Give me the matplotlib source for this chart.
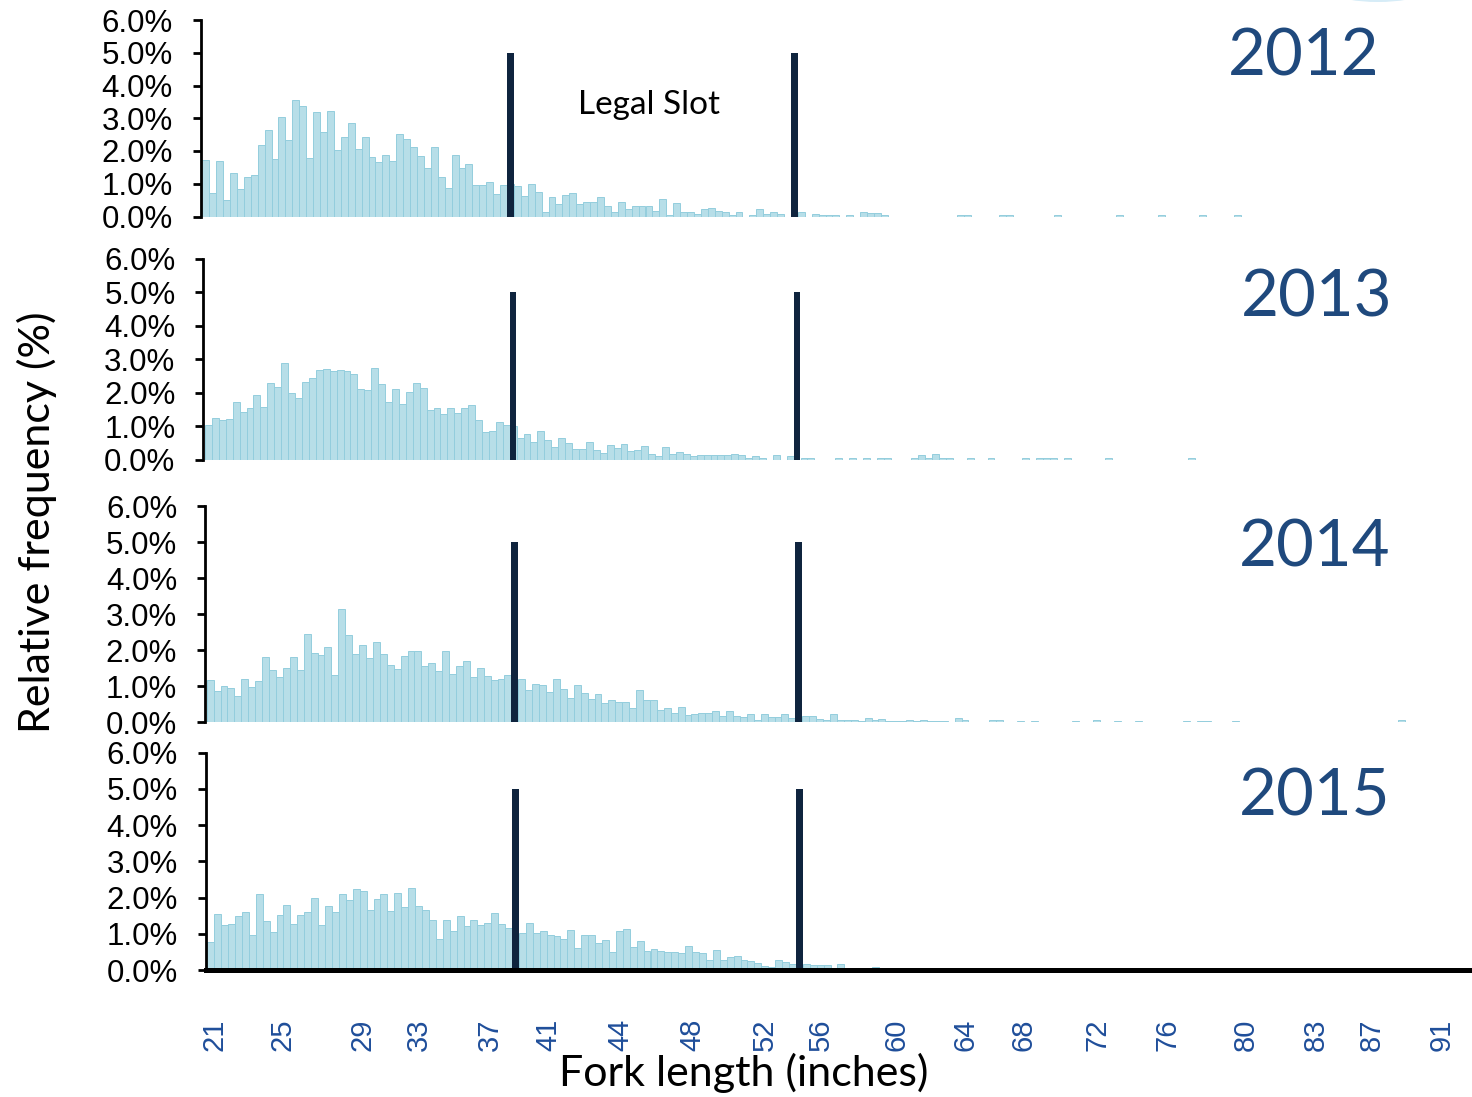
import matplotlib
matplotlib.use("Agg")
import matplotlib.pyplot as plt
from matplotlib.patches import Ellipse
import numpy as np

# ---------------- data (relative frequency in %, 1-cm bins starting at 53 cm) ----------------
years = ["2012", "2013", "2014", "2015"]

# bins 0..43 (below the legal slot)
low_2012 = [1.73,0.72,1.69,0.49,1.34,0.85,1.20,1.28,2.17,2.65,1.77,3.05,2.33,3.57,3.37,1.80,3.20,2.59,3.23,2.04,
            2.42,2.87,2.07,2.44,1.83,1.65,1.87,1.70,2.53,2.36,2.13,1.86,1.49,2.13,1.21,0.88,1.89,1.49,1.61,0.97,
            0.97,1.06,0.69,0.97]
low_2013 = [1.03,1.24,1.18,1.21,1.72,1.42,1.54,1.93,1.57,2.28,2.17,2.88,1.99,1.84,2.33,2.44,2.68,2.71,2.63,2.67,
            2.64,2.56,2.12,2.07,2.73,2.26,1.72,2.10,1.66,2.02,2.30,2.13,1.48,1.53,1.36,1.53,1.39,1.54,1.63,1.18,
            0.83,0.86,1.11,1.03]
low_2014 = [1.16,0.88,1.01,0.96,0.72,1.19,0.97,1.15,1.82,1.46,1.26,1.51,1.82,1.46,2.45,1.93,1.87,2.09,1.32,3.14,
            2.41,1.90,2.15,1.79,2.23,1.90,1.59,1.48,1.84,1.99,1.99,1.57,1.65,1.43,1.99,1.35,1.57,1.71,1.26,1.51,
            1.29,1.18,1.20,1.30]
low_2015 = [0.76,1.54,1.23,1.26,1.48,1.59,0.96,2.09,1.35,1.06,1.51,1.80,1.26,1.52,1.59,2.00,1.23,1.76,1.60,2.11,
            1.94,2.23,2.17,1.65,1.95,2.09,1.62,2.12,1.74,2.27,1.76,1.65,1.39,0.85,1.37,1.07,1.48,1.22,1.37,1.24,
            1.31,1.57,1.28,1.17]

# bins 45..84 (inside the legal slot)
slot_2012 = [0.94,0.64,1.00,0.76,0.15,0.60,0.38,0.65,0.73,0.37,0.45,0.43,0.60,0.32,0.14,0.45,0.22,0.32,0.32,0.32,
             0.17,0.54,0.05,0.41,0.14,0.14,0.08,0.22,0.27,0.17,0.13,0.05,0.14,0.00,0.05,0.23,0.08,0.14,0.08,0.00]
slot_2013 = [0.65,0.77,0.53,0.86,0.59,0.38,0.65,0.49,0.30,0.30,0.51,0.29,0.20,0.44,0.33,0.47,0.26,0.29,0.41,0.17,
             0.10,0.37,0.17,0.23,0.17,0.10,0.13,0.13,0.13,0.13,0.13,0.17,0.14,0.05,0.09,0.05,0.00,0.13,0.00,0.09]
slot_2014 = [1.19,0.90,1.05,1.03,0.85,1.19,0.93,0.68,1.04,0.80,0.66,0.79,0.53,0.63,0.56,0.57,0.41,0.90,0.61,0.63,
             0.33,0.41,0.25,0.43,0.19,0.22,0.27,0.25,0.32,0.17,0.32,0.18,0.14,0.24,0.05,0.23,0.14,0.14,0.24,0.13]
slot_2015 = [1.02,1.31,1.01,1.07,0.96,0.93,0.85,1.10,0.60,0.97,0.97,0.75,0.84,0.51,1.07,1.12,0.63,0.79,0.52,0.59,
             0.52,0.49,0.49,0.46,0.65,0.49,0.46,0.27,0.54,0.29,0.35,0.38,0.27,0.24,0.18,0.11,0.07,0.27,0.21,0.16]

# sparse tail above the slot: bin index -> value
tail_bins_2012 = [86,88,89,90,91,93,95,96,97,98,109,110,115,116,123,132,138,144,149]
tail_vals_2012 = [0.14,0.08,0.05,0.05,0.05,0.05,0.14,0.11,0.11,0.05,0.05,0.05,0.05,0.05,0.05,0.05,0.05,0.05,0.05]
tail_bins_2013 = [86,87,91,93,95,97,98,102,103,104,105,106,107,110,113,118,120,121,122,124,130,142]
tail_vals_2013 = [0.05,0.05,0.05,0.05,0.05,0.05,0.05,0.05,0.12,0.05,0.15,0.05,0.05,0.05,0.05,0.05,0.05,0.05,0.05,
                  0.05,0.05,0.05]
tail_bins_2014 = [86,87,88,89,90,91,92,93,94,95,96,97,98,99,100,101,102,103,104,105,106,108,109,113,114,117,119,
                  125,128,131,134,141,143,144,148,172]
tail_vals_2014 = [0.18,0.18,0.09,0.06,0.24,0.07,0.07,0.07,0.04,0.13,0.07,0.10,0.03,0.03,0.03,0.07,0.04,0.07,0.03,
                  0.03,0.03,0.11,0.05,0.05,0.07,0.04,0.04,0.04,0.07,0.04,0.04,0.04,0.04,0.04,0.04,0.07]
tail_bins_2015 = [86,87,88,89,90,91,92,96,99,101,102,103,105,112]
tail_vals_2015 = [0.16,0.13,0.13,0.13,0.03,0.16,0.04,0.09,0.05,0.05,0.05,0.05,0.05,0.05]

hidden_val = 1.0            # bins covered by the slot-limit markers
slot_limit_bins = [44, 85]  # 38 in and 54 in
slot_limit_height = 5.0

xtick_labels = ["21","25","29","33","37","41","44","48","52","56","60","64","68","72","76","80","83","87","91"]
xtick_bins = [1.07,10.9,22.4,30.5,40.8,49.3,59.7,70.1,80.5,88.6,99.5,109.5,117.8,128.5,138.6,149.9,160.0,168.2,178.3]
ytick_vals = [0,1,2,3,4,5,6]

lows = [low_2012, low_2013, low_2014, low_2015]
slots = [slot_2012, slot_2013, slot_2014, slot_2015]
tails_b = [tail_bins_2012, tail_bins_2013, tail_bins_2014, tail_bins_2015]
tails_v = [tail_vals_2012, tail_vals_2013, tail_vals_2014, tail_vals_2015]

# ---------------- figure ----------------
W, H = 1472, 1097
fig = plt.figure(figsize=(W/100, H/100), dpi=100)
fig.patch.set_facecolor("white")

def fx(px): return px / W
def fy(py): return 1 - py / H

BAR_FILL = "#B7DEE8"
BAR_EDGE = "#93CDDD"
LINE_COL = "#0F243E"
YEAR_COL = "#1F497D"
TICK_COL = "#1F4E9A"
binw = 6.925
# (bar origin px, top px (6%), bottom px (0%))
layout = [(202.3, 20.0, 216.5), (205.0, 258.7, 459.5), (206.7, 506.0, 722.3), (207.3, 752.8, 970.0)]
year_pos = [(1304, 57), (1317, 298), (1315, 548), (1315, 797)]

for i, yr in enumerate(years):
    origin, top, bot = layout[i]
    lo = -0.25
    hi = (W - origin) / binw
    left_px = origin + lo * binw
    ax = fig.add_axes([fx(left_px), fy(bot), (W - left_px) / W, (bot - top) / H])
    vals = {}
    for b, v in enumerate(lows[i]):
        vals[b] = v
    vals[44] = hidden_val
    for k, v in enumerate(slots[i]):
        vals[45 + k] = v
    for b, v in zip(tails_b[i], tails_v[i]):
        vals[b] = v
    bins = np.array(sorted(vals))
    heights = np.array([vals[b] for b in bins])
    ax.bar(bins, heights, width=1.0, align="edge", color=BAR_FILL, edgecolor=BAR_EDGE,
           linewidth=0.7, zorder=2)
    ax.bar(slot_limit_bins, [slot_limit_height] * 2, width=0.98, align="edge", color=LINE_COL,
           linewidth=0, zorder=3)
    ax.set_xlim(lo, hi)
    ax.set_ylim(0, 6)
    ax.set_yticks(ytick_vals)
    ax.set_yticklabels([f"{v:.1f}%" for v in ytick_vals], family=["Liberation Sans", "DejaVu Sans"],
                       fontsize=22.5)
    ax.tick_params(axis="y", direction="out", length=6, width=2, pad=14, colors="black")
    for s in ["top", "right"]:
        ax.spines[s].set_visible(False)
    ax.spines["left"].set_linewidth(2.0)
    ax.spines["left"].set_color("black")
    ax.patch.set_alpha(0)
    if i < 3:
        ax.spines["bottom"].set_visible(False)
        ax.set_xticks([])
    else:
        ax.spines["bottom"].set_linewidth(3.6)
        ax.spines["bottom"].set_color("black")
        ax.spines["bottom"].set_zorder(5)
        ax.set_xticks(xtick_bins)
        ax.set_xticklabels(xtick_labels, rotation=90, color=TICK_COL, fontsize=21,
                           family=["Liberation Sans", "DejaVu Sans"])
        ax.tick_params(axis="x", length=0, pad=35)
    fig.text(fx(year_pos[i][0]), fy(year_pos[i][1]), yr, color=YEAR_COL, fontsize=47,
             family=["Lato", "DejaVu Sans"], ha="center", va="center")

fig.text(fx(649), fy(105), "Legal Slot", fontsize=24, family=["Lato", "DejaVu Sans"],
         ha="center", va="center", color="black")
fig.text(fx(37), fy(522), "Relative frequency (%)", rotation=90, fontsize=31,
         family=["Lato", "DejaVu Sans"], ha="center", va="center", color="black")
fig.text(fx(744), fy(1073), "Fork length (inches)", fontsize=31,
         family=["Lato", "DejaVu Sans"], ha="center", va="center", color="black")

# faint decorative arc at top right edge
arc_ax = fig.add_axes([0, 0, 1, 1], zorder=-1)
arc_ax.set_xlim(0, W); arc_ax.set_ylim(H, 0); arc_ax.axis("off")
arc_ax.add_patch(Ellipse((1378, -6), 80, 16, color="#D6ECF7", lw=0))

fig.savefig("out.png", dpi=100, facecolor="white")
